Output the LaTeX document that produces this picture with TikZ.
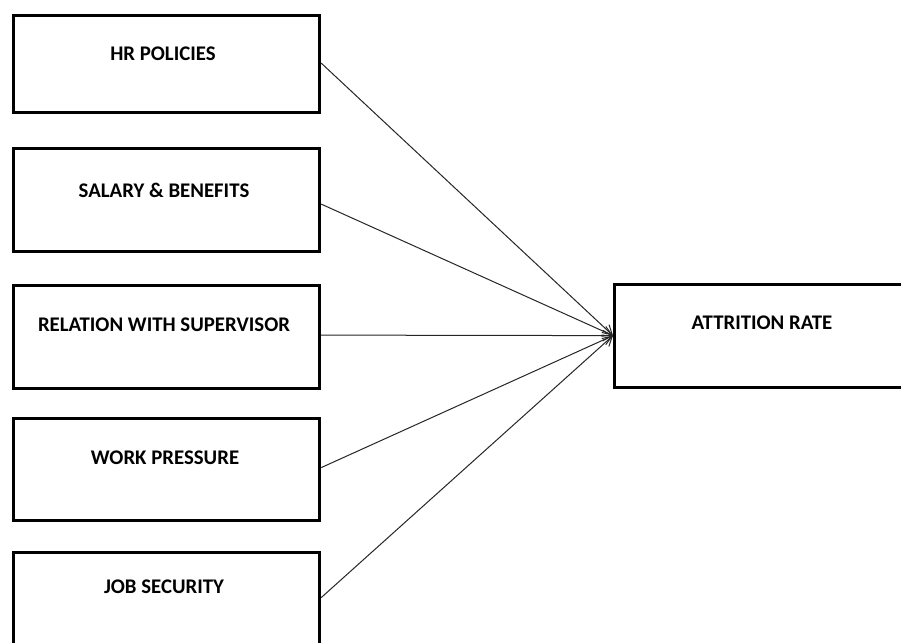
\documentclass[tikz,border=0pt]{standalone}
\usepackage{fontspec}
\setmainfont{Carlito}
\usetikzlibrary{arrows.meta}
\tikzset{
  factor/.style={draw=black, line width=2.4pt, fill=white, minimum width=306*0.75pt, minimum height=#1, inner sep=0pt, anchor=north west},
  lbl/.style={font=\fontsize{15.6pt}{18pt}\selectfont\bfseries, inner sep=0pt, anchor=center},
  conn/.style={draw=black!85, line width=0.75pt, -{Straight Barb[length=7pt,width=8pt,line width=0.75pt]}}
}
\begin{document}
\begin{tikzpicture}[x=0.75pt, y=-0.75pt]
\useasboundingbox (0,0) rectangle (901,643);
\clip (0,0) rectangle (901,643);
\fill[white] (0,0) rectangle (901,643);
\node[factor=97*0.75pt] (b1) at (12,14) {};
\node[factor=103*0.75pt] (b2) at (12,147) {};
\node[factor=103*0.75pt] (b3) at (12,284) {};
\node[factor=102*0.75pt] (b4) at (12,417) {};
\node[factor=100*0.75pt] (b5) at (12,551) {};
\node[factor=103*0.75pt, minimum width=298*0.75pt] (out) at (613,283) {};
\node[lbl] (t1) at (163,54) {HR POLICIES};
\node[lbl] (t2) at (164,190) {SALARY \& BENEFITS};
\node[lbl] (t3) at (164,325) {RELATION WITH SUPERVISOR};
\node[lbl] (t4) at (165,458) {WORK PRESSURE};
\node[lbl] (t5) at (164,587) {JOB SECURITY};
\node[lbl] (t6) at (762,323) {ATTRITION RATE};
\coordinate (tip) at ([yshift=0.5*0.75pt]out.west);
\draw[conn] ([yshift=1*0.75pt]b1.east) -- (tip);
\draw[conn] ([yshift=-4*0.75pt]b2.east) -- (tip);
\draw[conn] ([yshift=2*0.75pt]b3.east) -- (tip);
\draw[conn] ([yshift=2*0.75pt]b4.east) -- (tip);
\draw[conn] ([yshift=5*0.75pt]b5.east) -- (tip);
\end{tikzpicture}
\end{document}
